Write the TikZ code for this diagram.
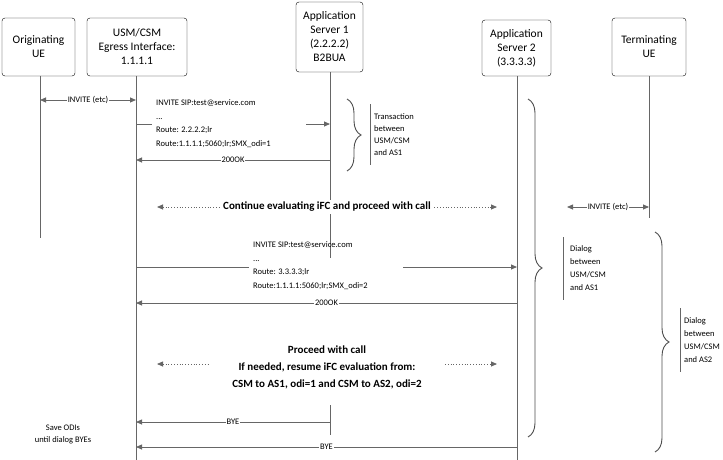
\documentclass[tikz,border=0pt]{standalone}
\usepackage{fontspec}
\setmainfont{Carlito}
\usetikzlibrary{arrows.meta,decorations.pathreplacing}
\begin{document}
\begin{tikzpicture}[x=1pt,y=-1pt,
  box/.style={draw=black,rounded corners=3pt,align=center,font=\fontsize{11.5}{14}\selectfont,inner sep=2pt},
  life/.style={draw=black!60,line width=0.8pt},
  msg/.style={draw=black!60,line width=0.8pt,-{Triangle[length=6pt,width=5pt]}},
  dmsg/.style={draw=black!60,line width=0.8pt,{Triangle[length=6pt,width=5pt]}-{Triangle[length=6pt,width=5pt]}},
  dots/.style={draw=black!60,line width=0.8pt,dotted,{Triangle[length=6pt,width=5pt]}-{Triangle[length=6pt,width=5pt]}},
  lbl/.style={fill=white,inner sep=1pt,font=\fontsize{8.5}{10}\selectfont},
  txt/.style={align=left,font=\fontsize{8.5}{13.5}\selectfont,inner sep=0pt},
  btxt/.style={align=center,font=\bfseries\fontsize{11}{17}\selectfont,fill=white,inner sep=2pt},
  brace/.style={draw=black!70,line width=0.9pt,decorate,decoration={brace,amplitude=14pt}}]
\useasboundingbox (0,0) rectangle (723,460);
\node[box,minimum width=73,minimum height=58] (oue) at (38.5,47) {Originating\\UE};
\node[box,minimum width=100,minimum height=58] (usm) at (137,47) {USM/CSM\\Egress Interface:\\1.1.1.1};
\node[box,minimum width=67,minimum height=70] (as1) at (329.5,37) {Application\\Server 1\\(2.2.2.2)\\B2BUA};
\node[box,minimum width=69,minimum height=56] (as2) at (516.5,48) {Application\\Server 2\\(3.3.3.3)};
\node[box,minimum width=74,minimum height=58] (tue) at (649,47) {Terminating\\UE};
\coordinate (o1) at (40,76); \coordinate (o2) at (40,238);
\coordinate (u1) at (136,76); \coordinate (u2) at (136,460);
\coordinate (a1) at (330,72); \coordinate (a2) at (330,258);
\coordinate (a3) at (330,405); \coordinate (a4) at (330,435);
\coordinate (b1) at (517,76); \coordinate (b2) at (517,460);
\coordinate (t1) at (649,76); \coordinate (t2) at (649,218);
\draw[life] (o1)--(o2); \draw[life] (u1)--(u2); \draw[life] (a1)--(a2);
\draw[life] (a3)--(a4); \draw[life] (b1)--(b2); \draw[life] (t1)--(t2);
\draw[dmsg] (40,100) -- node[lbl] (i1) {INVITE (etc)} (136,100);
\node[txt,anchor=west] (m1) at (156,123.5) {INVITE SIP:test@service.com\\...\\Route: 2.2.2.2;lr\\Route:1.1.1.1;5060;lr;SMX\_odi=1};
\draw[life] (136,124) -- (152,124);
\draw[msg] (306,124) -- (330,124);
\draw[msg] (330,160) -- node[lbl] (ok1) {200OK} (136,160);
\draw[brace] (347,99) -- (347,171);
\draw[life] (370,104) -- (370,165);
\node[txt,anchor=west,font=\fontsize{8.5}{12}\selectfont] (t1txt) at (374,135) {Transaction\\between\\USM/CSM\\and AS1};
\draw[dots] (157,207) -- node[btxt] (c1) {Continue evaluating iFC and proceed with call} (497,207);
\draw[dmsg] (567,207) -- node[lbl] (i2) {INVITE (etc)} (649,207);
\node[txt,anchor=west] (m2) at (253,265.5) {INVITE SIP:test@service.com\\...\\Route: 3.3.3.3;lr\\Route:1.1.1.1:5060;lr;SMX\_odi=2};
\draw[life] (136,267) -- (249,267);
\draw[msg] (403,267) -- (517,267);
\draw[msg] (517,303) -- node[lbl] (ok2) {200OK} (136,303);
\node[btxt] (p1) at (327,367) {Proceed with call\\If needed, resume iFC evaluation from:\\CSM to AS1, odi=1 and CSM to AS2, odi=2};
\draw[dots,{Triangle[length=6pt,width=5pt]}-] (157,364) -- (210,364);
\draw[dots,-{Triangle[length=6pt,width=5pt]}] (445,364) -- (497,364);
\draw[msg] (330,422) -- node[lbl] (bye1) {BYE} (136,422);
\draw[msg] (517,447) -- node[lbl] (bye2) {BYE} (136,447);
\node[align=center,font=\fontsize{8.5}{12}\selectfont] (save) at (63,434) {Save ODIs\\until dialog BYEs};
\draw[brace] (528,99) -- (528,437);
\draw[life] (563,237) -- (563,300);
\node[txt,anchor=west,font=\fontsize{8.5}{13}\selectfont] (d1) at (570,268) {Dialog\\between\\USM/CSM\\and AS1};
\draw[brace] (655,232) -- (655,452);
\draw[life] (680,308) -- (680,372);
\node[txt,anchor=west,font=\fontsize{8.5}{13}\selectfont] (d2) at (684,340) {Dialog\\between\\USM/CSM\\and AS2};
\end{tikzpicture}
\end{document}
